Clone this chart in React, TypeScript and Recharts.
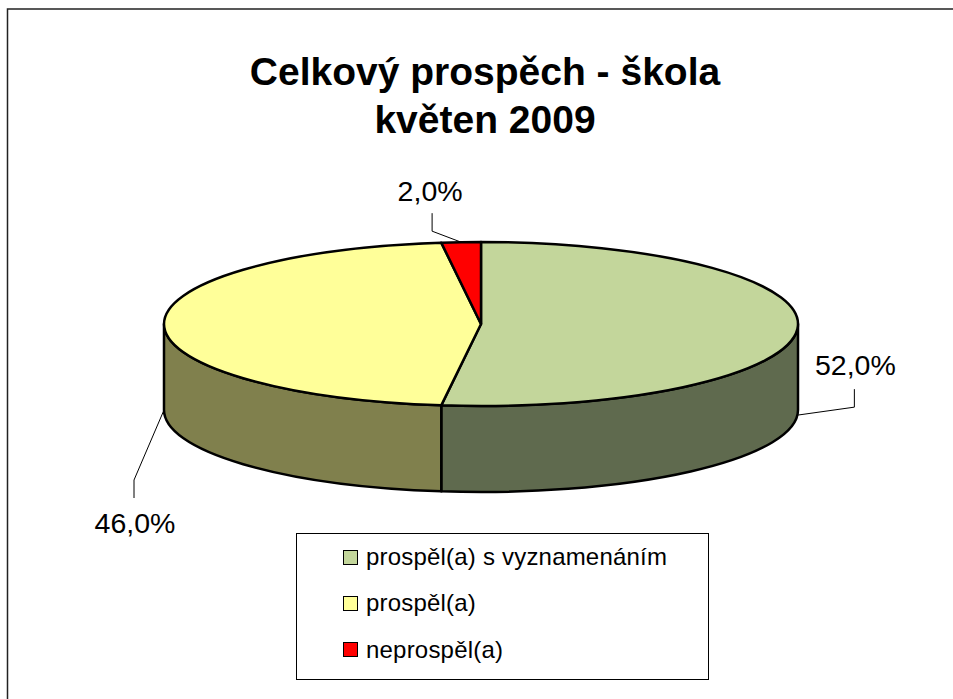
import React from 'react';
import { PieChart, Pie, Legend } from 'recharts';

const categories = ['prospěl(a) s vyznamenáním', 'prospěl(a)', 'neprospěl(a)'];
const values = [52, 46, 2];
const topColors = ['#C3D69B', '#FFFF99', '#FF0000'];
const wallColors = ['#5F6A4E', '#80804D', '#800000'];
const titleLines = ['Celkový prospěch - škola', 'květen 2009'];

const data = categories.map((name, i) => ({ name, value: values[i], fill: topColors[i], wall: wallColors[i] }));

const FONT = '"Liberation Sans", Arial, sans-serif';
const SQUASH = 82 / 317;
const DEPTH = 86;
const RAD = Math.PI / 180;

// Leader elbow / end offsets from the anchor on the pie rim, and label offset from the leader end.
const leaders = [
  { elbow: [57, -8], end: [57, -26], text: [58, -40] },
  { elbow: [-30, 70], end: [-30, 88], text: [-29, 123] },
  { elbow: [-29, -11], end: [-29, -29], text: [-31, -41] },
];

const ell = (cx: number, cy: number, r: number, a: number, dy = 0) => [
  cx + r * Math.cos(a * RAD),
  cy - r * SQUASH * Math.sin(a * RAD) + dy,
];

function Slice3D(props: any) {
  const { cx, cy, outerRadius: r, startAngle, endAngle, fill, wall, payload } = props;
  const ry = r * SQUASH;
  const wallFill = wall ?? payload?.wall;
  const [sx, sy] = ell(cx, cy, r, startAngle);
  const [ex, ey] = ell(cx, cy, r, endAngle);
  const large = Math.abs(startAngle - endAngle) > 180 ? 1 : 0;
  const top = `M${cx},${cy} L${sx},${sy} A${r},${ry} 0 ${large} 1 ${ex},${ey} Z`;
  const ws = Math.min(startAngle, 0);
  const we = Math.max(endAngle, -180);
  let wallPath: string | null = null;
  if (ws > we) {
    const [ax, ay] = ell(cx, cy, r, ws);
    const [bx, by] = ell(cx, cy, r, we);
    wallPath = `M${ax},${ay} A${r},${ry} 0 0 1 ${bx},${by} L${bx},${by + DEPTH} A${r},${ry} 0 0 0 ${ax},${ay + DEPTH} Z`;
  }
  return (
    <g>
      {wallPath && <path d={wallPath} fill={wallFill} stroke="#000" strokeWidth={2.5} strokeLinejoin="round" />}
      <path d={top} fill={fill} stroke="#000" strokeWidth={2.5} strokeLinejoin="round" />
    </g>
  );
}

function SliceLabel(props: any) {
  const { cx, cy, outerRadius: r, midAngle, percent, index } = props;
  const front = Math.sin(midAngle * RAD) <= 0;
  const [ax, ay] = ell(cx, cy, r, midAngle, front ? DEPTH : 0);
  const l = leaders[index];
  const text = (percent * 100).toFixed(1).replace('.', ',') + '%';
  return (
    <g>
      <polyline
        points={`${ax},${ay} ${ax + l.elbow[0]},${ay + l.elbow[1]} ${ax + l.end[0]},${ay + l.end[1]}`}
        fill="none"
        stroke="#000"
        strokeWidth={1}
      />
      <text x={ax + l.text[0]} y={ay + l.text[1]} textAnchor="middle" fontFamily={FONT} fontSize={28.5} fill="#000">
        {text}
      </text>
    </g>
  );
}

function LegendBox({ payload }: any) {
  return (
    <div style={{ width: 413, height: 147, boxSizing: 'border-box', border: '1px solid #000', background: '#fff', fontFamily: FONT, fontSize: 24, letterSpacing: 0.2, color: '#000' }}>
      {(payload ?? []).map((it: any) => (
        <div key={it.value} style={{ display: 'flex', alignItems: 'center', height: 46.3, paddingLeft: 46 }}>
          <span style={{ width: 13, height: 13, border: '1.5px solid #000', background: it.color, marginRight: 8, flex: 'none' }} />
          <span>{it.value}</span>
        </div>
      ))}
    </div>
  );
}

export default function App() {
  return (
    <div style={{ position: 'absolute', left: 0, top: 0, width: 953, height: 699, overflow: 'hidden', background: '#fff' }}>
      <PieChart width={953} height={699} margin={{ top: 0, right: 0, bottom: 0, left: 0 }}>
        <rect x={7.5} y={9} width={960} height={710} fill="#fff" stroke="#222" strokeWidth={1.5} />
        <text textAnchor="middle" fontFamily={FONT} fontWeight="bold" fontSize={39} fill="#000">
          <tspan x={485} y={85}>{titleLines[0]}</tspan>
          <tspan x={485} y={133}>{titleLines[1]}</tspan>
        </text>
        <Pie
          data={data}
          dataKey="value"
          nameKey="name"
          cx={481}
          cy={324}
          outerRadius={317}
          startAngle={90}
          endAngle={-270}
          stroke="#000"
          isAnimationActive={false}
          shape={Slice3D}
          label={SliceLabel}
          labelLine={false}
        />
        <Legend itemSorter={null} content={LegendBox} wrapperStyle={{ left: 296, top: 533, width: 413, height: 147, bottom: 'auto' }} />
      </PieChart>
    </div>
  );
}
